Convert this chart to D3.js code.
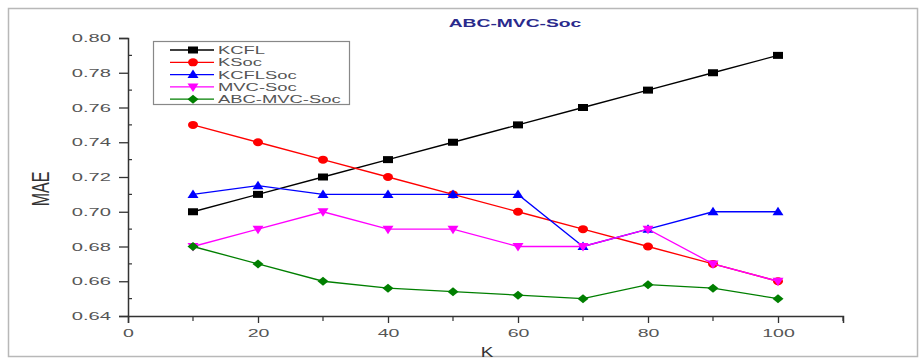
<!DOCTYPE html>
<html><head><meta charset="utf-8">
<script src="https://cdn.jsdelivr.net/npm/d3@7"></script>
<style>body{margin:0;background:#fff}svg{display:block}text{font-family:Arial,"Liberation Sans",sans-serif}</style>
</head><body><svg id="c" width="923" height="363"></svg>
<script>
const kValues = [10,20,30,40,50,60,70,80,90,100];
const kcfl = [0.70,0.71,0.72,0.73,0.74,0.75,0.76,0.77,0.78,0.79];
const ksoc = [0.75,0.74,0.73,0.72,0.71,0.70,0.69,0.68,0.67,0.66];
const kcflSoc = [0.71,0.715,0.71,0.71,0.71,0.71,0.68,0.69,0.70,0.70];
const mvcSoc = [0.68,0.69,0.70,0.69,0.69,0.68,0.68,0.69,0.67,0.66];
const abcMvcSoc = [0.68,0.67,0.66,0.656,0.654,0.652,0.65,0.658,0.656,0.65];
const seriesNames = ["KCFL","KSoc","KCFLSoc","MVC-Soc","ABC-MVC-Soc"];
const seriesColors = ["#000000","#ff0000","#0000ff","#ff00ff","#007f00"];
const seriesSymbols = ["square","circle","triUp","triDown","diamond"];
const xTicks = [0,20,40,60,80,100];
const yTicks = [0.64,0.66,0.68,0.70,0.72,0.74,0.76,0.78,0.80];

const svg = d3.select("#c");
const x = d3.scaleLinear().domain([0,110]).range([128,843]);
const y = d3.scaleLinear().domain([0.64,0.80]).range([316,38]);

function stretch(sel, f){
  sel.each(function(){
    const w = this.getComputedTextLength();
    d3.select(this).attr("textLength", w*f).attr("lengthAdjust","spacingAndGlyphs");
  });
}

// frame
svg.append("rect").attr("x",8.5).attr("y",8.5).attr("width",909).attr("height",348)
  .attr("fill","none").attr("stroke","#b8b8b8").attr("stroke-width",1.5);

// title
svg.append("text").attr("x",515).attr("y",27).attr("text-anchor","middle")
  .attr("font-size",11).attr("font-weight","bold").attr("fill","#2a2a8c").text("ABC-MVC-Soc")
  .call(stretch,1.75);

// axes
const yAxis = d3.axisLeft(y).tickValues(yTicks).tickFormat(d3.format(".2f")).tickSize(9).tickPadding(8);
const gy = svg.append("g").attr("transform","translate(128,0)").call(yAxis);
const xAxis = d3.axisBottom(x).tickValues(xTicks).tickFormat(d3.format("d")).tickSize(7).tickPadding(6);
const gx = svg.append("g").attr("transform","translate(0,316)").call(xAxis);
[gx,gy].forEach(g=>{
  g.attr("font-family",null).attr("font-size",null);
  g.select(".domain").attr("stroke","#333").attr("stroke-width",1.5);
  g.selectAll(".tick line").attr("stroke","#333").attr("stroke-width",1.3);
  g.selectAll(".tick text").attr("fill","#555").attr("font-size",11.5);
});
gy.selectAll(".tick text").call(stretch,1.75);
gx.selectAll(".tick text").call(stretch,1.7);
// minor ticks
const yMinor = d3.range(0.65,0.80,0.02);
svg.append("g").selectAll("line").data(yMinor).join("line")
  .attr("x1",128).attr("x2",132).attr("y1",d=>y(d)).attr("y2",d=>y(d)).attr("stroke","#333").attr("stroke-width",1.2);
const xMinor = [10,30,50,70,90,110];
svg.append("g").selectAll("line").data(xMinor).join("line")
  .attr("x1",d=>x(d)).attr("x2",d=>x(d)).attr("y1",316).attr("y2",321).attr("stroke","#333").attr("stroke-width",1.2);

// axis labels
svg.append("text").attr("transform","translate(49,189) scale(1.5,1) rotate(-90)").attr("text-anchor","middle")
  .attr("font-size",16).attr("fill","#333").text("MAE");
svg.append("text").attr("transform","translate(487,357) scale(1.35,1)").attr("text-anchor","middle")
  .attr("font-size",14).attr("fill","#333").text("K");

function drawSymbol(g, type, cx, cy, color){
  if(type==="square") g.append("rect").attr("x",cx-5).attr("y",cy-3.5).attr("width",10).attr("height",7).attr("fill",color);
  else if(type==="circle") g.append("ellipse").attr("cx",cx).attr("cy",cy).attr("rx",5).attr("ry",4).attr("fill",color);
  else if(type==="triUp") g.append("path").attr("d",`M${cx},${cy-5}L${cx+5.5},${cy+3.5}L${cx-5.5},${cy+3.5}Z`).attr("fill",color);
  else if(type==="triDown") g.append("path").attr("d",`M${cx-5.5},${cy-3.5}L${cx+5.5},${cy-3.5}L${cx},${cy+5}Z`).attr("fill",color);
  else if(type==="diamond") g.append("path").attr("d",`M${cx},${cy-4.5}L${cx+5.5},${cy}L${cx},${cy+4.5}L${cx-5.5},${cy}Z`).attr("fill",color);
}

const allSeries = [kcfl,ksoc,kcflSoc,mvcSoc,abcMvcSoc];
const line = d3.line().x((d,i)=>x(kValues[i])).y(d=>y(d));
allSeries.forEach((vals,si)=>{
  const g = svg.append("g");
  g.append("path").attr("d",line(vals)).attr("fill","none").attr("stroke",seriesColors[si]).attr("stroke-width",1.3);
  vals.forEach((v,i)=>drawSymbol(g, seriesSymbols[si], x(kValues[i]), y(v), seriesColors[si]));
});

// legend
const lg = svg.append("g");
lg.append("rect").attr("x",153.5).attr("y",41.5).attr("width",196).attr("height",63)
  .attr("fill","#fff").attr("stroke","#888").attr("stroke-width",1.2);
seriesNames.forEach((n,i)=>{
  const yy = 50 + i*12.3;
  lg.append("line").attr("x1",170).attr("x2",214).attr("y1",yy).attr("y2",yy).attr("stroke",seriesColors[i]).attr("stroke-width",1.3);
  drawSymbol(lg, seriesSymbols[i], 193, yy, seriesColors[i]);
  lg.append("text").attr("x",218).attr("y",yy+4).attr("font-size",11.5).attr("fill","#555").text(n).call(stretch,1.6);
});
</script></body></html>
